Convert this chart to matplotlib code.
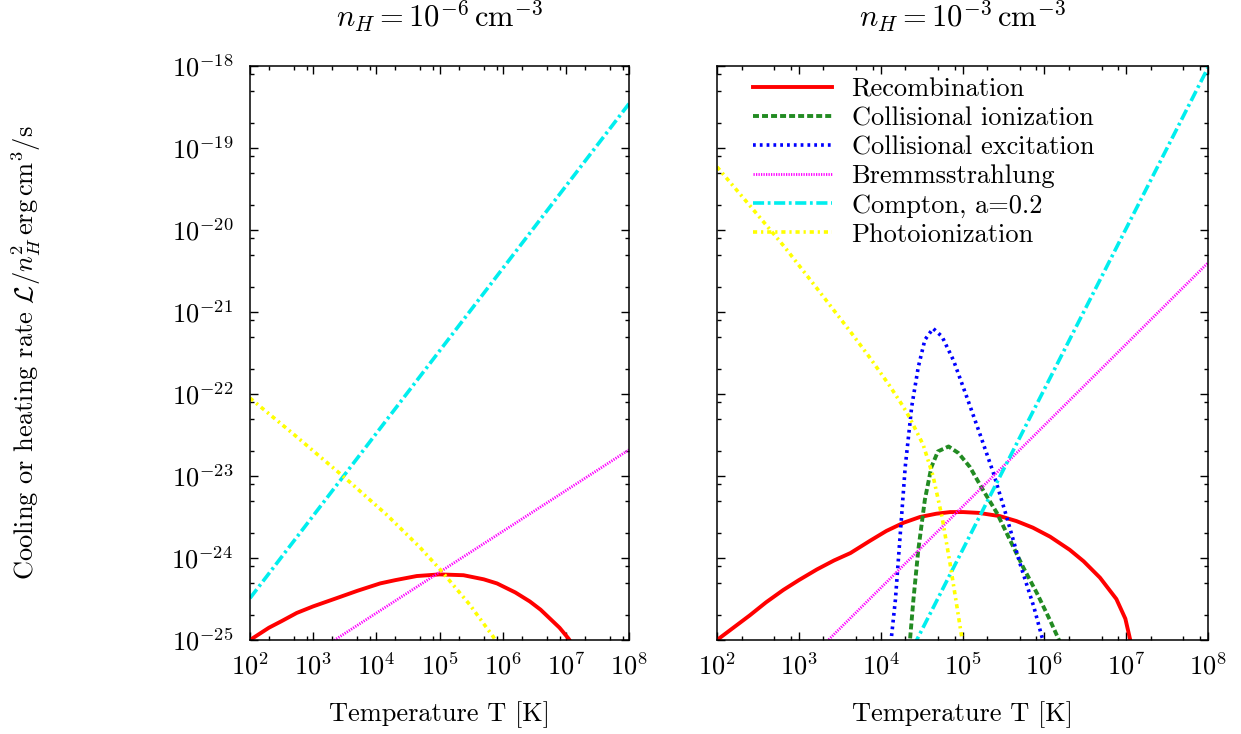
import matplotlib
matplotlib.use("Agg")
import matplotlib.pyplot as plt
from matplotlib.ticker import LogLocator, NullFormatter
import numpy as np

plt.rcParams['font.family'] = 'serif'
plt.rcParams['font.serif'] = ['cmr10']
plt.rcParams['mathtext.fontset'] = 'cm'
plt.rcParams['axes.unicode_minus'] = False
plt.rcParams['axes.formatter.use_mathtext'] = True
plt.rcParams['lines.scale_dashes'] = False
plt.rcParams['font.size'] = 19

# values, as log10(T) and log10(rate)
# left panel, n_H = 1e-6
l_rec_logT = [2.0, 2.3, 2.5, 2.74, 3.0, 3.37, 3.7, 4.06, 4.3, 4.64, 5.0, 5.38, 5.7, 5.91, 6.2, 6.43, 6.6, 6.75, 6.9, 7.04, 7.1]
l_rec_logL = [-25.0, -24.85, -24.77, -24.67, -24.59, -24.49, -24.40, -24.31, -24.27, -24.22, -24.2, -24.21, -24.26, -24.31, -24.42, -24.53, -24.63, -24.74, -24.85, -24.98, -25.05]
l_brem_logT = [3.3, 8.0]
l_brem_logL = [-25.02, -22.68]
l_comp_logT = [2.0, 8.0]
l_comp_logL = [-24.49, -18.46]
l_phot_logT = [2.0, 2.69, 3.50, 4.16, 4.69, 5.01, 5.48, 5.85, 5.9]
l_phot_logL = [-22.05, -22.49, -23.02, -23.47, -23.87, -24.14, -24.57, -24.96, -25.02]

# right panel, n_H = 1e-3
r_rec_logT = [2.0, 2.2, 2.4, 2.6, 2.81, 3.0, 3.22, 3.43, 3.63, 3.87, 4.07, 4.28, 4.48, 4.68, 4.85, 5.01,
              5.2, 5.46, 5.66, 5.86, 6.07, 6.31, 6.48, 6.68, 6.88, 6.99, 7.05, 7.1]
r_rec_logL = [-25.0, -24.85, -24.70, -24.54, -24.39, -24.27, -24.14, -24.03, -23.94, -23.79, -23.67, -23.57, -23.50, -23.46, -23.44, -23.44,
              -23.45, -23.49, -23.55, -23.63, -23.74, -23.90, -24.04, -24.24, -24.50, -24.74, -25.0, -25.2]
r_ion_logT = [4.34, 4.36, 4.40, 4.46, 4.54, 4.62, 4.70, 4.83, 4.95, 5.09, 5.25, 5.42, 5.58, 5.74, 5.91, 6.07, 6.17, 6.2]
r_ion_logL = [-25.2, -24.98, -24.51, -23.90, -23.29, -22.89, -22.70, -22.64, -22.72, -22.89, -23.17, -23.45, -23.78, -24.11, -24.43, -24.76, -24.98, -25.05]
r_exc_logT = [4.12, 4.13, 4.18, 4.24, 4.30, 4.38, 4.46, 4.54, 4.64, 4.75, 4.89, 5.05, 5.21, 5.38, 5.54, 5.70, 5.87, 5.97, 6.0]
r_exc_logL = [-25.2, -24.98, -24.51, -23.70, -22.89, -22.15, -21.67, -21.34, -21.20, -21.30, -21.59, -22.03, -22.48, -22.97, -23.50, -24.06, -24.59, -24.96, -25.05]
r_brem_logT = [3.3, 8.0]
r_brem_logL = [-25.06, -20.40]
r_comp_logT = [4.40, 8.0]
r_comp_logL = [-25.08, -18.02]
r_phot_logT = [2.0, 2.45, 2.82, 3.22, 3.63, 3.87, 4.11, 4.28, 4.36, 4.52, 4.64, 4.75, 4.85, 4.93, 4.99, 5.01]
r_phot_logL = [-19.23, -19.76, -20.20, -20.71, -21.24, -21.56, -21.90, -22.16, -22.30, -22.62, -23.00, -23.50, -24.08, -24.58, -24.96, -25.1]

labels = ['Recombination', 'Collisional ionization', 'Collisional excitation',
          'Bremmsstrahlung', 'Compton, a=0.2', 'Photoionization']
titles = [r'$n_H = 10^{-6}\,\mathrm{cm}^{-3}$', r'$n_H = 10^{-3}\,\mathrm{cm}^{-3}$']

styles = {
    'rec': dict(color='#ff0000', lw=2.8, ls='-'),
    'ion': dict(color='#228b22', lw=2.8, ls=(0, (4.3, 2.2))),
    'exc': dict(color='#0000ff', lw=2.6, ls=(0, (2.0, 2.9))),
    'brem': dict(color='#ff00ff', lw=2.0, ls=(0, (0.9, 0.9))),
    'comp': dict(color='#00eeee', lw=2.6, ls=(0, (8.0, 2.6, 2.0, 2.6))),
    'phot': dict(color='#ffff00', lw=2.6, ls=(0, (3.0, 2.8, 1.6, 2.8))),
}


def p(v):
    return np.power(10.0, v)


def setup(ax, title, ylabels):
    ax.set_xscale('log')
    ax.set_yscale('log')
    ax.set_xlim(1e2, 1e8)
    ax.set_ylim(1e-25, 1e-18)
    ax.xaxis.set_major_locator(LogLocator(base=10, numticks=20))
    ax.yaxis.set_major_locator(LogLocator(base=10, numticks=20))
    ax.xaxis.set_minor_locator(LogLocator(base=10, subs=(2, 5, 8), numticks=20))
    ax.yaxis.set_minor_locator(LogLocator(base=10, subs=(2, 5, 8), numticks=20))
    ax.xaxis.set_minor_formatter(NullFormatter())
    ax.yaxis.set_minor_formatter(NullFormatter())
    ax.tick_params(which='both', direction='in', top=True, right=True, width=1.0)
    ax.tick_params(which='major', length=6)
    ax.tick_params(which='minor', length=3)
    ax.tick_params(axis='x', which='major', pad=9)
    ax.tick_params(axis='y', which='major', pad=12)
    if not ylabels:
        ax.tick_params(axis='y', labelleft=False)
    for s in ax.spines.values():
        s.set_linewidth(1.1)
    ax.set_title(title, pad=28, fontsize=22)
    ax.set_xlabel('Temperature T [K]', labelpad=16)


fig = plt.figure(figsize=(12.41, 7.34), dpi=100)
ax1 = fig.add_axes([250 / 1241, 94 / 734, 379 / 1241, 574 / 734])
ax2 = fig.add_axes([717 / 1241, 94 / 734, 491 / 1241, 574 / 734])

setup(ax1, titles[0], True)
ax1.plot(p(l_rec_logT), p(l_rec_logL), **styles['rec'])
ax1.plot(p(l_brem_logT), p(l_brem_logL), **styles['brem'])
ax1.plot(p(l_comp_logT), p(l_comp_logL), **styles['comp'])
ax1.plot(p(l_phot_logT), p(l_phot_logL), **styles['phot'])
ax1.set_ylabel(r'Cooling or heating rate $\mathcal{L}/n_H^2\,\mathrm{erg\,cm}^3/\mathrm{s}$')
ax1.yaxis.set_label_coords(-0.546, 0.5)

setup(ax2, titles[1], False)
ax2.plot(p(r_rec_logT), p(r_rec_logL), label=labels[0], **styles['rec'])
ax2.plot(p(r_ion_logT), p(r_ion_logL), label=labels[1], **styles['ion'])
ax2.plot(p(r_exc_logT), p(r_exc_logL), label=labels[2], **styles['exc'])
ax2.plot(p(r_brem_logT), p(r_brem_logL), label=labels[3], **styles['brem'])
ax2.plot(p(r_comp_logT), p(r_comp_logL), label=labels[4], **styles['comp'])
ax2.plot(p(r_phot_logT), p(r_phot_logL), label=labels[5], **styles['phot'])
ax2.legend(loc='upper left', frameon=False, handlelength=3.0, handletextpad=0.75,
           labelspacing=0.2, borderaxespad=0.0, bbox_to_anchor=(25 / 491, 1 - 1 / 574))

fig.savefig('out.png', dpi=100)
